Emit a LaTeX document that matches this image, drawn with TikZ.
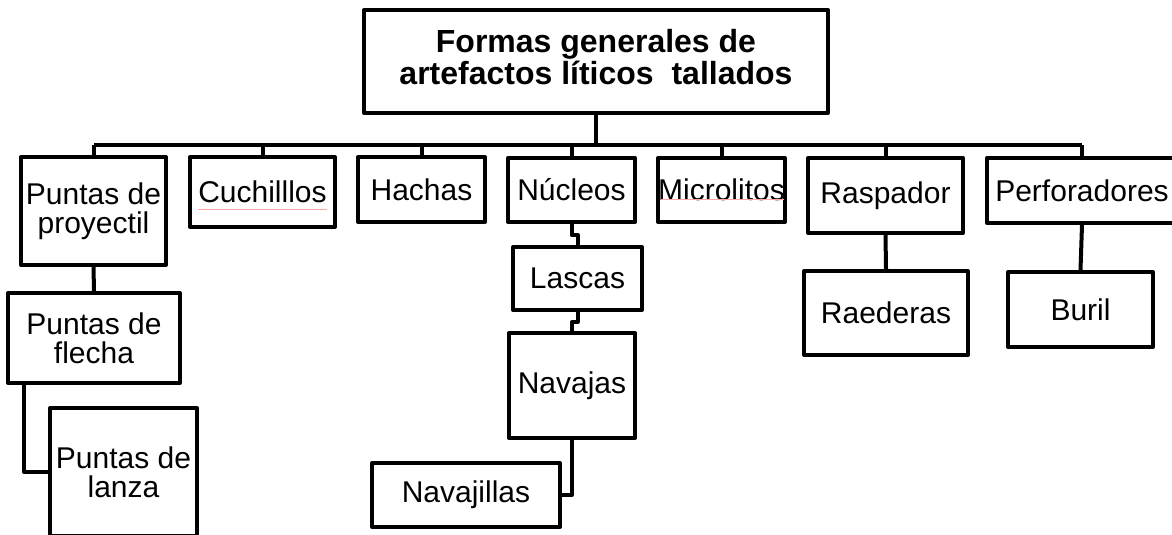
\documentclass[tikz,border=0pt]{standalone}
\usepackage{fontspec}
\setmainfont{Liberation Sans}
\usetikzlibrary{calc}

\tikzset{
  caja/.style={draw=black, line width=4pt, line join=round, inner sep=0pt, align=center,
    font=\fontsize{30}{29}\selectfont},
  linea/.style={black, line width=4pt, line join=round},
  ortografia/.style={red!35, line width=1pt}
}

\begin{document}
\begin{tikzpicture}[x=1pt,y=-1pt]
\useasboundingbox (0,0) rectangle (1172,535);

\node[caja, minimum width=464, minimum height=103, text depth=9pt, font=\fontsize{32}{29}\selectfont\bfseries] (titulo) at (596,61.5) {Formas generales de\\artefactos líticos\ \ tallados};

\node[caja, minimum width=145, minimum height=108] (proyectil) at (93.5,211) {Puntas de\\proyectil};
\node[caja, minimum width=145, minimum height=70] (cuchillos) at (262.5,192) {Cuchilllos};
\node[caja, minimum width=127, minimum height=65] (hachas) at (421.5,189.5) {Hachas};
\node[caja, minimum width=127, minimum height=64] (nucleos) at (571.5,190) {Núcleos};
\node[caja, minimum width=127, minimum height=64] (microlitos) at (721.5,190) {Microlitos};
\node[caja, minimum width=155, minimum height=75] (raspador) at (885.5,195.5) {Raspador};
\node[caja, minimum width=190, minimum height=65] (perforadores) at (1082,190.5) {Perforadores};

\node[caja, minimum width=172, minimum height=90] (flecha) at (94,338) {Puntas de\\flecha};
\node[caja, minimum width=147, minimum height=128] (lanza) at (123.5,472) {Puntas de\\lanza};
\node[caja, minimum width=129, minimum height=63] (lascas) at (577.5,278.5) {Lascas};
\node[caja, minimum width=126, minimum height=105] (navajas) at (572,385.5) {Navajas};
\node[caja, minimum width=188, minimum height=64] (navajillas) at (466,495) {Navajillas};
\node[caja, minimum width=164, minimum height=84] (raederas) at (886,313) {Raederas};
\node[caja, minimum width=145, minimum height=75] (buril) at (1080.5,309.5) {Buril};

\coordinate (bus) at (0,145);
\draw[linea] (titulo.south) -- (titulo.south |- bus);
\draw[linea] (proyectil.north |- bus) -- (perforadores.north |- bus);
\foreach \n in {proyectil,cuchillos,hachas,nucleos,microlitos,raspador,perforadores}
  \draw[linea] (\n.north) -- (\n.north |- bus);

\draw[linea] (proyectil.south) -- (flecha.north);
\coordinate (f1) at ([xshift=18pt]flecha.south west);
\draw[linea] (f1) |- (lanza.west);

\draw[linea] (nucleos.south) -- ++(0,11) -| (lascas.north);
\draw[linea] (lascas.south) -- ++(0,10) -| (navajas.north);
\draw[linea] (navajas.south) |- (navajillas.east);

\draw[linea] (raspador.south) -- (raederas.north);
\draw[linea] (perforadores.south) -- (buril.north);

\draw[ortografia] ($(cuchillos.west)+(10,17)$) -- ($(cuchillos.east)+(-10,17)$);
\draw[ortografia] ($(microlitos.west)+(5,9)$) -- ($(microlitos.east)+(-3,9)$);

\end{tikzpicture}
\end{document}
